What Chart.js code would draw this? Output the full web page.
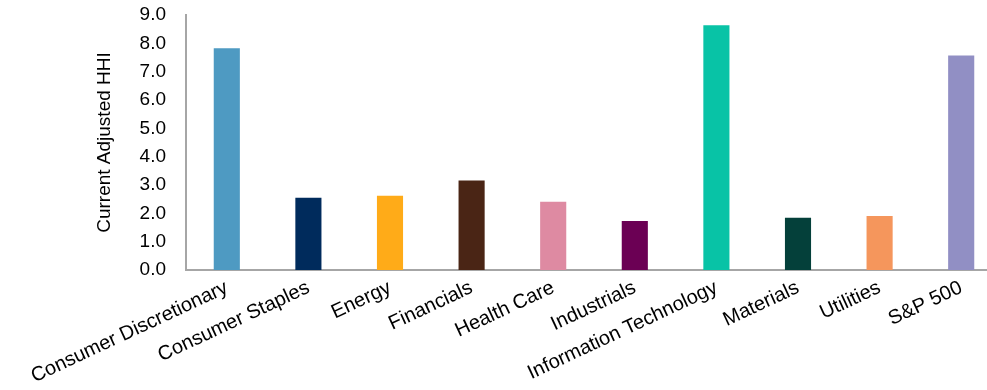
<!DOCTYPE html>
<html>
<head>
<meta charset="utf-8">
<script src="https://cdn.jsdelivr.net/npm/chart.js@4"></script>
<style>
  html, body { margin: 0; padding: 0; background: #fff; overflow: hidden; }
  #wrap { width: 1010px; height: 390px; }
</style>
</head>
<body>
<div id="wrap"><canvas id="hhi-chart"></canvas></div>
<script>
  const sectors = ['Consumer Discretionary', 'Consumer Staples', 'Energy', 'Financials', 'Health Care',
    'Industrials', 'Information Technology', 'Materials', 'Utilities', 'S&P 500'];
  const hhiValues = [7.83, 2.55, 2.62, 3.16, 2.41, 1.73, 8.64, 1.84, 1.91, 7.57];
  const barColors = ['#4E9AC2', '#002B5C', '#FFAB18', '#4A2515', '#DE8AA2',
    '#6B0054', '#08C3A6', '#04403A', '#F5965C', '#918FC4'];

  const family = "'Liberation Sans', Arial, sans-serif";

  // Build chart
  const ctx = document.getElementById('hhi-chart').getContext('2d');
  new Chart(ctx, {
    type: 'bar',
    data: {
      labels: sectors,
      datasets: [{
        data: hhiValues,
        backgroundColor: barColors,
        barPercentage: 0.32,
        categoryPercentage: 1
      }]
    },
    options: {
      responsive: true,
      maintainAspectRatio: false,
      animation: false,
      layout: { padding: { top: 0, left: 93, right: 8, bottom: 0 } },
      plugins: { legend: { display: false }, tooltip: { enabled: false } },
      scales: {
        x: {
          grid: { display: false, drawTicks: false },
          border: { color: '#A6A6A6', width: 2 },
          ticks: { color: '#000', font: { family: family, size: 20 }, minRotation: 25, maxRotation: 25,
            padding: 6, autoSkip: false },
          afterFit: scale => { scale.height = 120; }
        },
        y: {
          min: 0,
          max: 9,
          grid: { display: false, drawTicks: false },
          border: { color: '#A6A6A6', width: 2 },
          ticks: { stepSize: 1, color: '#000', font: { family: family, size: 19 }, padding: 20,
            callback: v => Number(v).toFixed(1) },
          title: { display: true, text: 'Current Adjusted HHI', color: '#000',
            font: { family: family, size: 19 }, padding: 0 },
          afterFit: scale => {
            scale.width = 93;
            scale.paddingTop = 15;
            scale.paddingBottom = 0;
          }
        }
      }
    }
  });
</script>
</body>
</html>
